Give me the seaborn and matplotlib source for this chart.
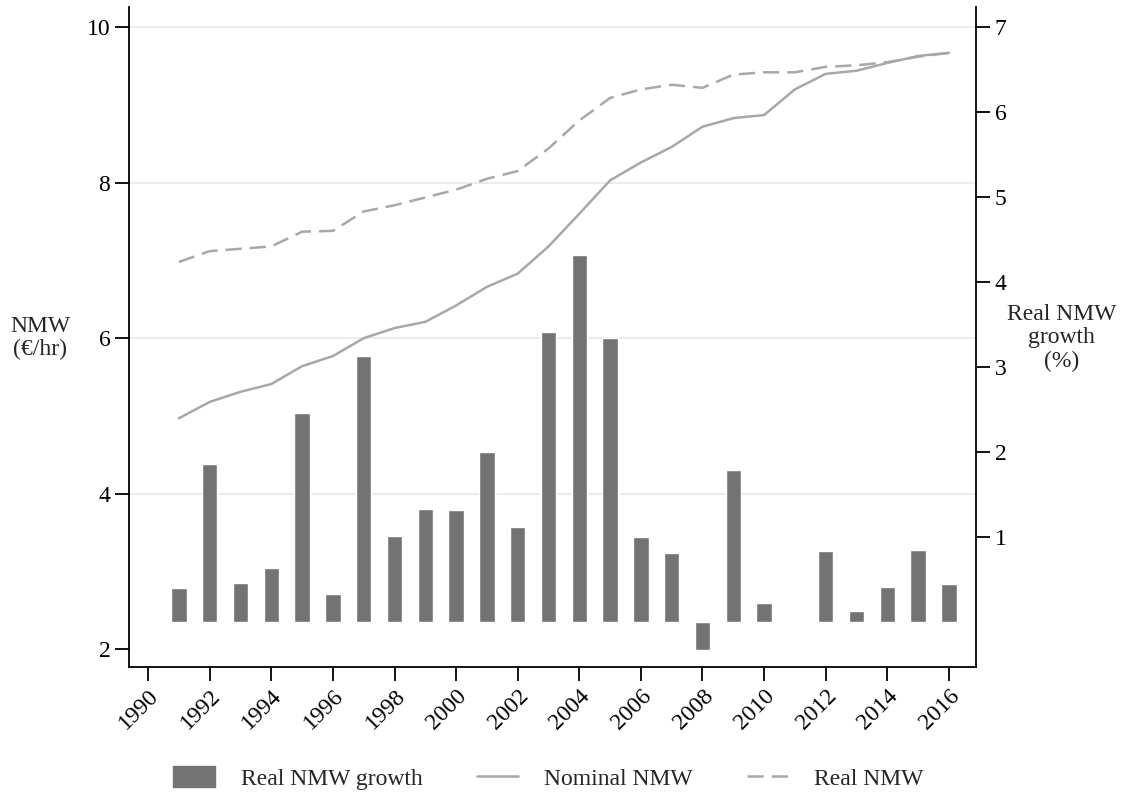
import pandas as pd
import matplotlib.pyplot as plt
import seaborn as sns
from matplotlib.patches import Patch
from matplotlib.lines import Line2D

# data
years = list(range(1991, 2017))
nominal_nmw = [4.97, 5.18, 5.31, 5.41, 5.64, 5.77, 6.00, 6.13, 6.21, 6.42, 6.66, 6.83,
               7.18, 7.60, 8.03, 8.26, 8.46, 8.72, 8.83, 8.87, 9.20, 9.40, 9.44, 9.54,
               9.63, 9.67]
real_nmw = [6.98, 7.12, 7.15, 7.18, 7.37, 7.38, 7.63, 7.71, 7.81, 7.91, 8.05, 8.15,
            8.44, 8.80, 9.09, 9.20, 9.26, 9.22, 9.39, 9.42, 9.42, 9.49, 9.51, 9.55,
            9.62, 9.67]
real_growth = [0.40, 1.86, 0.45, 0.63, 2.45, 0.33, 3.13, 1.01, 1.33, 1.31, 2.00, 1.11,
               3.41, 4.31, 3.34, 0.99, 0.81, -0.33, 1.79, 0.22, 0.0, 0.83, 0.12, 0.41,
               0.84, 0.44]
left_ticks = [2, 4, 6, 8, 10]
grid_levels = [4, 6, 8, 10]
right_ticks = [1, 2, 3, 4, 5, 6, 7]
x_ticks = list(range(1990, 2017, 2))

df = pd.DataFrame({'year': years, 'nominal': nominal_nmw, 'real': real_nmw,
                   'growth': real_growth})

sns.set_style('ticks')
plt.rcParams['font.family'] = ['Liberation Serif', 'DejaVu Serif']
plt.rcParams['font.size'] = 17

bar_col = '#737373'
line_col = '#a8a8a8'
dash = (6.5, 3.2)

fig, ax = plt.subplots(figsize=(11.33, 7.95), dpi=100)
fig.subplots_adjust(left=0.1139, right=0.8614, top=0.9912, bottom=0.161)
ax2 = ax.twinx()

# gridlines (left axis, not at 2)
ax.hlines(grid_levels, 1989.38, 2016.88, color='#e6efef', lw=1.5, zorder=0)

sns.lineplot(data=df, x='year', y='nominal', ax=ax, color=line_col, lw=1.8)
sns.lineplot(data=df, x='year', y='real', ax=ax, color=line_col, lw=1.8)
ax.lines[-1].set_dashes(dash)

sns.barplot(data=df, x='year', y='growth', ax=ax2, native_scale=True, width=0.5,
            color=bar_col, saturation=1, errorbar=None)

ax.set_xlim(1989.38, 2016.88)
ax.set_ylim(1.77, 10.26)
ax2.set_ylim(-0.535, 7.235)
ax.set_yticks(left_ticks)
ax2.set_yticks(right_ticks)
ax.set_xticks(x_ticks)
ax.set_xticklabels(x_ticks, rotation=45, ha='right', rotation_mode='anchor')

for a in (ax, ax2):
    a.spines['top'].set_visible(False)
    for s in a.spines.values():
        s.set_color('black')
        s.set_linewidth(1.3)
    a.tick_params(length=10, width=1.3, colors='black', labelsize=17)
ax.spines['right'].set_visible(False)
ax2.spines['left'].set_visible(False)
ax2.spines['bottom'].set_visible(False)

ax.set_xlabel('')
ax.set_ylabel('NMW\n(€/hr)', rotation=0, ha='center', va='center', linespacing=1.15)
ax.yaxis.set_label_coords(-0.105, 0.4985)
ax2.set_ylabel('Real NMW\ngrowth\n(%)', rotation=0, ha='center', va='center',
               linespacing=1.15)
ax2.yaxis.set_label_coords(1.1015, 0.4985)

handles = [Patch(facecolor=bar_col, edgecolor=bar_col),
           Line2D([], [], color=line_col, lw=1.8),
           Line2D([], [], color=line_col, lw=1.8, dashes=dash)]
labels = ['Real NMW growth', 'Nominal NMW', 'Real NMW']
fig.legend(handles, labels, loc='center', bbox_to_anchor=(0.484, 1 - 778 / 795),
           ncol=3, frameon=False, handlelength=1.75, handleheight=1.0,
           handletextpad=1.1, columnspacing=2.3, fontsize=17)

plt.savefig('out.png', dpi=100)
